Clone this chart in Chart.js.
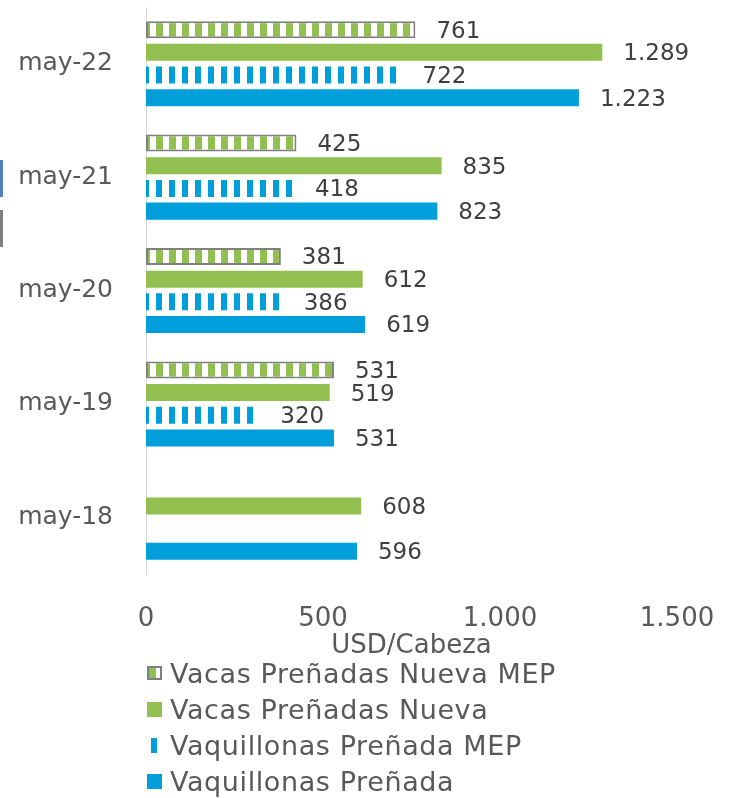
<!DOCTYPE html>
<html>
<head>
<meta charset="utf-8">
<script src="https://cdn.jsdelivr.net/npm/chart.js@4.4.1/dist/chart.umd.min.js"></script>
<style>
  body { margin: 0; background: #fff; }
  #wrap { position: relative; width: 738px; height: 798px; }
  #legend { position: absolute; left: 147px; top: 655px; font-family: "DejaVu Sans"; font-size: 27px; color: #595959; letter-spacing: 0.6px; }
  .row { height: 36px; display: flex; align-items: center; }
  .mark { display: inline-block; margin-right: 8px; box-sizing: border-box; }
  .side { position: absolute; left: 0; width: 3px; }
</style>
</head>
<body>
<div id="wrap">
  <canvas id="myChart" width="738" height="798"></canvas>
  <div class="side" style="top:160px;height:37px;background:#4f81bd"></div>
  <div class="side" style="top:210px;height:37px;background:#7f7f7f"></div>
  <div id="legend"></div>
</div>
<script>
let categories = ["may-22", "may-21", "may-20", "may-19", "may-18"];
let vacasMep = [761, 425, 381, 531, null];
let vacas = [1289, 835, 612, 519, 608];
let vaquillonasMep = [722, 418, 386, 320, null];
let vaquillonas = [1223, 823, 619, 531, 596];
let xTicks = [0, 500, 1000, 1500];

let green = "#92c050";
let blue = "#009fdb";

function fmt(v) {
  return String(v).replace(/\B(?=(\d{3})+(?!\d))/g, ".");
}

function stripes(color, w) {
  let c = document.createElement("canvas");
  c.width = 13;
  c.height = 13;
  let g = c.getContext("2d");
  g.fillStyle = "#fff";
  g.fillRect(0, 0, 13, 13);
  g.fillStyle = color;
  g.fillRect(0, 0, w, 13);
  return g.createPattern(c, "repeat");
}

// numbers next to the bars
const valueLabels = {
  id: "valueLabels",
  afterDatasetsDraw(chart) {
    let ctx = chart.ctx;
    ctx.save();
    ctx.font = '23px "DejaVu Sans"';
    ctx.fillStyle = "#404040";
    ctx.textAlign = "left";
    ctx.textBaseline = "middle";
    chart.data.datasets.forEach(function (ds, i) {
      chart.getDatasetMeta(i).data.forEach(function (bar, j) {
        if (ds.data[j] == null) return;
        ctx.fillText(fmt(ds.data[j]), bar.x + 21, bar.y + 2);
      });
    });
    ctx.restore();
  }
};

window.onload = function () {
  Chart.defaults.font.family = '"DejaVu Sans"';
  Chart.defaults.color = "#595959";

  let ctx = document.getElementById("myChart").getContext("2d");

  window.myChart = new Chart(ctx, {
    type: "bar",
    data: {
      labels: categories,
      datasets: [
        { label: "Vacas Preñadas Nueva MEP", data: vacasMep, backgroundColor: stripes(green, 7),
          borderColor: "#808080", borderWidth: 2, borderSkipped: false },
        { label: "Vacas Preñadas Nueva", data: vacas, backgroundColor: green },
        { label: "Vaquillonas Preñada MEP", data: vaquillonasMep, backgroundColor: stripes(blue, 6) },
        { label: "Vaquillonas Preñada", data: vaquillonas, backgroundColor: blue }
      ]
    },
    options: {
      indexAxis: "y",
      responsive: false,
      animation: false,
      categoryPercentage: 0.8,
      barPercentage: 0.75,
      layout: { padding: { top: 7, right: 61, bottom: 136, left: 0 } },
      plugins: { legend: { display: false }, tooltip: { enabled: false } },
      scales: {
        y: {
          grid: { display: false },
          border: { display: true, color: "#d9d9d9", width: 1 },
          ticks: { font: { size: 25 }, padding: 25 },
          afterFit: function (s) {
            s.width = 146;
            s.paddingTop = 0;
            s.paddingBottom = 0;
          }
        },
        x: {
          min: 0,
          max: 1500,
          grid: { display: false },
          border: { display: false },
          afterBuildTicks: function (s) { s.ticks = xTicks.map(function (v) { return { value: v }; }); },
          ticks: { font: { size: 26 }, padding: 22, callback: function (v) { return fmt(v); } },
          title: { display: true, text: "USD/Cabeza", font: { size: 26, lineHeight: 1.2 }, padding: 0 },
          afterFit: function (s) { s.height = 88; }
        }
      }
    },
    plugins: [valueLabels]
  });

  // legend built from the datasets
  let marks = [
    "width:15px;height:14px;border:2px solid #808080;background:linear-gradient(90deg," + green + " 60%,#fff 60%)",
    "width:15px;height:15px;background:" + green,
    "width:6px;height:15px;margin-left:4px;margin-right:13px;background:" + blue,
    "width:15px;height:15px;background:" + blue
  ];
  let legend = document.getElementById("legend");
  myChart.data.datasets.forEach(function (ds, i) {
    let row = document.createElement("div");
    row.className = "row";
    let m = document.createElement("span");
    m.className = "mark";
    m.style.cssText = marks[i];
    row.appendChild(m);
    row.appendChild(document.createTextNode(ds.label));
    legend.appendChild(row);
  });
};
</script>
</body>
</html>
